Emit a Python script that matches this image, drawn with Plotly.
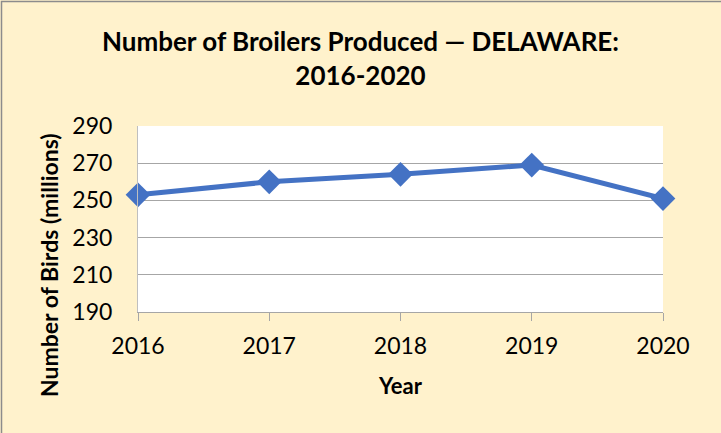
import plotly.graph_objects as go

years = [2016, 2017, 2018, 2019, 2020]
birds = [253, 260, 264, 269, 251]
y_ticks = [190, 210, 230, 250, 270, 290]

W, H = 721, 433
ml, mr, mt, mb = 138, 58, 126, 121

fig = go.Figure()
fig.add_trace(go.Scatter(
    x=years, y=birds, mode="lines+markers",
    line=dict(color="#4472C4", width=5),
    marker=dict(symbol="diamond", size=19, color="#4472C4"),
    cliponaxis=False, showlegend=False,
))

font = "Lato, Carlito, Calibri, sans-serif"
pw = W - ml - mr
ph = H - mt - mb
fig.update_layout(
    width=W, height=H,
    margin=dict(l=ml, r=mr, t=mt, b=mb),
    paper_bgcolor="#FFF2CC",
    plot_bgcolor="#FFFFFF",
    font=dict(family=font, color="#000000", size=23),
    title=dict(
        text="<b>Number of Broilers Produced — DELAWARE:<br>2016-2020</b>",
        x=0.5, xanchor="center", y=1 - 51 / H, yanchor="middle",
        font=dict(size=26, family=font),
    ),
    xaxis=dict(
        range=[2016, 2020], tickvals=years, ticktext=[str(y) for y in years],
        showgrid=False, showline=True, linecolor="#A6A6A6", linewidth=1,
        ticks="outside", ticklen=8, tickcolor="#A6A6A6",
        ticklabelstandoff=5,
        tickfont=dict(size=23),
        title=dict(text="<b>Year</b>", font=dict(size=22), standoff=21),
        zeroline=False,
    ),
    yaxis=dict(
        range=[190, 290], tickvals=y_ticks,
        showgrid=True, gridcolor="#A6A6A6", gridwidth=1,
        showline=True, linecolor="#BFBFBF", linewidth=1,
        ticks="", ticklabelstandoff=20,
        tickfont=dict(size=23),
        zeroline=False,
    ),
)

# y-axis title, centred lower than the plot area as in the reference
fig.add_annotation(
    text="<b>Number of Birds (millions)</b>", textangle=-90,
    xref="paper", yref="paper",
    x=(49 - ml) / pw, y=(H - 265 - mb) / ph,
    xanchor="center", yanchor="middle", showarrow=False,
    font=dict(size=23, family=font, color="#000000"),
)

# outer chart border (top and left edges visible; right/bottom fall outside the crop)
fig.add_shape(type="rect", xref="paper", yref="paper",
              x0=(1.5 - ml) / pw, x1=(W + 10 - ml) / pw,
              y0=(mb - (H + 10)) / ph, y1=(H - 1.5 - mb) / ph,
              line=dict(color="#8C8C8C", width=1.5), layer="below")

fig.write_html("out.html", config={"displayModeBar": False},
               post_script="document.body.style.margin='0';")
